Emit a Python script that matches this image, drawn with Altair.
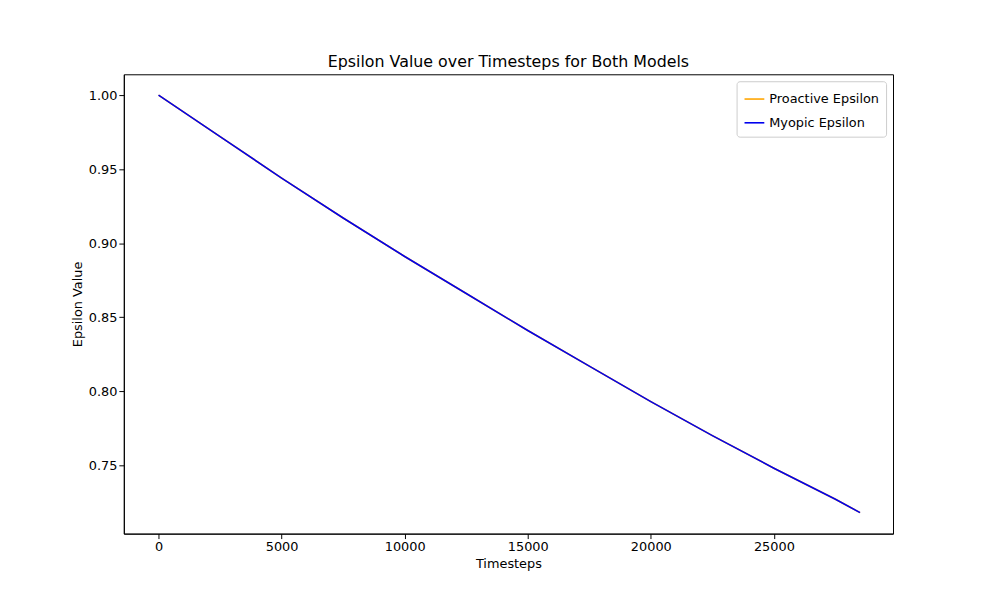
import pandas as pd
import altair as alt

# values (both models overlap exactly)
steps = [0, 2500, 5000, 7500, 10000, 12500, 15000, 17500, 20000, 22500, 25000, 27500, 28500]
epsilon = [1.000, 0.972, 0.944, 0.917, 0.891, 0.866, 0.841, 0.817, 0.793, 0.770, 0.748, 0.727, 0.718]
series = ["Proactive Epsilon", "Myopic Epsilon"]
colors = ["orange", "#0000ee"]

dat = pd.concat([
    pd.DataFrame({"Timesteps": steps, "Epsilon": epsilon, "series": s}) for s in series
])

font = "DejaVu Sans"
ax = dict(grid=False, labelFont=font, titleFont=font, labelFontSize=13,
          titleFontSize=13, titleFontWeight="normal", labelColor="black",
          titleColor="black", domainColor="black", tickColor="black")
chart = (alt.Chart(dat)
    .mark_line(strokeWidth=1.6, clip=True)
    .encode(
        x=alt.X("Timesteps:Q", title="Timesteps",
                scale=alt.Scale(domain=[-1411, 29839], nice=False, zero=False),
                axis=alt.Axis(values=[0, 5000, 10000, 15000, 20000, 25000], format="d", **ax)),
        y=alt.Y("Epsilon:Q", title="Epsilon Value",
                scale=alt.Scale(domain=[0.7038, 1.0141], nice=False, zero=False),
                axis=alt.Axis(values=[0.75, 0.80, 0.85, 0.90, 0.95, 1.00], format=".2f", **ax)),
        color=alt.Color("series:N", sort=series,
                        scale=alt.Scale(domain=series, range=colors),
                        legend=alt.Legend(title=None, orient="top-right", symbolType="stroke",
                                          labelFont=font, labelFontSize=13, labelColor="black",
                                          strokeColor="#cccccc", fillColor="white", padding=7,
                                          cornerRadius=3, symbolStrokeWidth=1.6, symbolSize=400,
                                          rowPadding=6, offset=7)),
        order=alt.Order("series:N", sort="descending"),
    )
    .properties(width=777, height=464,
                title=alt.TitleParams("Epsilon Value over Timesteps for Both Models",
                                      font=font, fontSize=16, fontWeight="normal", color="black"),
                padding={"left": 117, "top": 64, "right": 100, "bottom": 57},
                autosize=alt.AutoSizeParams(type="none"))
    .configure_view(stroke="black", strokeWidth=1)
)

chart.save("out.html", embed_options={"renderer": "svg", "actions": False})
